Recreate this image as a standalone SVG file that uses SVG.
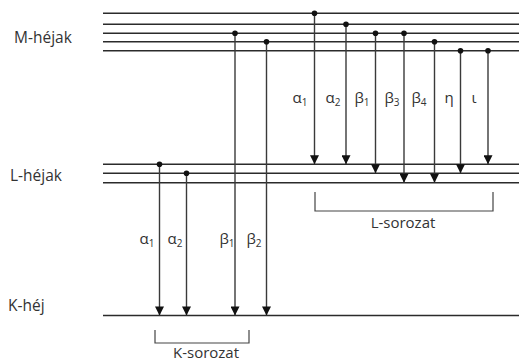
<svg xmlns="http://www.w3.org/2000/svg" width="519" height="361" viewBox="0 0 519 361">
<style>
.lvl{stroke:#2b2b2b;stroke-width:1.6;fill:none}
.arr{stroke:#3a3a3a;stroke-width:1.4;fill:none;marker-end:url(#ah)}
.dot{fill:#111}
.br{stroke:#444;stroke-width:1.2;fill:none}
.lab{font-family:"Open Sans","Liberation Sans",sans-serif;font-size:15.5px;fill:#333}
.gr{font-family:"Open Sans","Liberation Sans",sans-serif;font-size:15px;fill:#333;text-anchor:middle}
.sub{font-size:10px}
</style>
<defs>
<marker id="ah" viewBox="0 0 10 10" refX="10" refY="5" markerWidth="10" markerHeight="9" markerUnits="userSpaceOnUse" orient="auto">
<path d="M0,0 L10,5 L0,10 z" fill="#111"/>
</marker>
</defs>
<rect width="519" height="361" fill="#fff"/>
<g id="levels">
<g id="M-shells">
<line class="lvl" x1="103" y1="13.3" x2="519" y2="13.3"/>
<line class="lvl" x1="103" y1="24.3" x2="519" y2="24.3"/>
<line class="lvl" x1="103" y1="33.3" x2="519" y2="33.3"/>
<line class="lvl" x1="103" y1="41.7" x2="519" y2="41.7"/>
<line class="lvl" x1="103" y1="50.7" x2="519" y2="50.7"/>
<text class="lab" x="14" y="43">M-héjak</text>
</g>
<g id="L-shells">
<line class="lvl" x1="103" y1="164.3" x2="519" y2="164.3"/>
<line class="lvl" x1="103" y1="173.3" x2="519" y2="173.3"/>
<line class="lvl" x1="103" y1="182.7" x2="519" y2="182.7"/>
<text class="lab" x="10" y="181">L-héjak</text>
</g>
<g id="K-shell">
<line class="lvl" x1="103" y1="315.5" x2="519" y2="315.5"/>
<text class="lab" x="8" y="311">K-héj</text>
</g>
</g>
<g id="connectors">
<line class="arr" x1="159.5" y1="164.3" x2="159.5" y2="315.5"/>
<line class="arr" x1="186.5" y1="173.3" x2="186.5" y2="315.5"/>
<line class="arr" x1="235" y1="33.3" x2="235" y2="315.5"/>
<line class="arr" x1="266.5" y1="41.7" x2="266.5" y2="315.5"/>
<line class="arr" x1="314.5" y1="13.3" x2="314.5" y2="164.3"/>
<line class="arr" x1="346" y1="24.3" x2="346" y2="164.3"/>
<line class="arr" x1="375.5" y1="33.3" x2="375.5" y2="173.3"/>
<line class="arr" x1="404" y1="33.3" x2="404" y2="182.7"/>
<line class="arr" x1="434.5" y1="41.7" x2="434.5" y2="182.7"/>
<line class="arr" x1="460.5" y1="50.7" x2="460.5" y2="173.3"/>
<line class="arr" x1="488" y1="50.7" x2="488" y2="164.3"/>
</g>
<g id="dots">
<circle class="dot" cx="159.5" cy="164.3" r="2.8"/>
<circle class="dot" cx="186.5" cy="173.3" r="2.8"/>
<circle class="dot" cx="235" cy="33.3" r="2.8"/>
<circle class="dot" cx="266.5" cy="41.7" r="2.8"/>
<circle class="dot" cx="314.5" cy="13.3" r="2.8"/>
<circle class="dot" cx="346" cy="24.3" r="2.8"/>
<circle class="dot" cx="375.5" cy="33.3" r="2.8"/>
<circle class="dot" cx="404" cy="33.3" r="2.8"/>
<circle class="dot" cx="434.5" cy="41.7" r="2.8"/>
<circle class="dot" cx="460.5" cy="50.7" r="2.8"/>
<circle class="dot" cx="488" cy="50.7" r="2.8"/>
</g>
<g id="L-labels">
<text class="gr" x="300" y="103">α<tspan class="sub" dy="3">1</tspan></text>
<text class="gr" x="333" y="103">α<tspan class="sub" dy="3">2</tspan></text>
<text class="gr" x="362" y="103">β<tspan class="sub" dy="3">1</tspan></text>
<text class="gr" x="392" y="103">β<tspan class="sub" dy="3">3</tspan></text>
<text class="gr" x="419" y="103">β<tspan class="sub" dy="3">4</tspan></text>
<text class="gr" x="449" y="103">η</text>
<text class="gr" x="474" y="103">ι</text>
</g>
<g id="K-labels">
<text class="gr" x="147" y="244">α<tspan class="sub" dy="3">1</tspan></text>
<text class="gr" x="175" y="244">α<tspan class="sub" dy="3">2</tspan></text>
<text class="gr" x="227" y="244">β<tspan class="sub" dy="3">1</tspan></text>
<text class="gr" x="254" y="244">β<tspan class="sub" dy="3">2</tspan></text>
</g>
<g id="L-series">
<path class="br" d="M315,192 V211 H493 V192"/>
<text class="gr" x="403" y="228">L-sorozat</text>
</g>
<g id="K-series">
<path class="br" d="M155,330 V343 H249 V330"/>
<text class="gr" x="206" y="358">K-sorozat</text>
</g>
</svg>
